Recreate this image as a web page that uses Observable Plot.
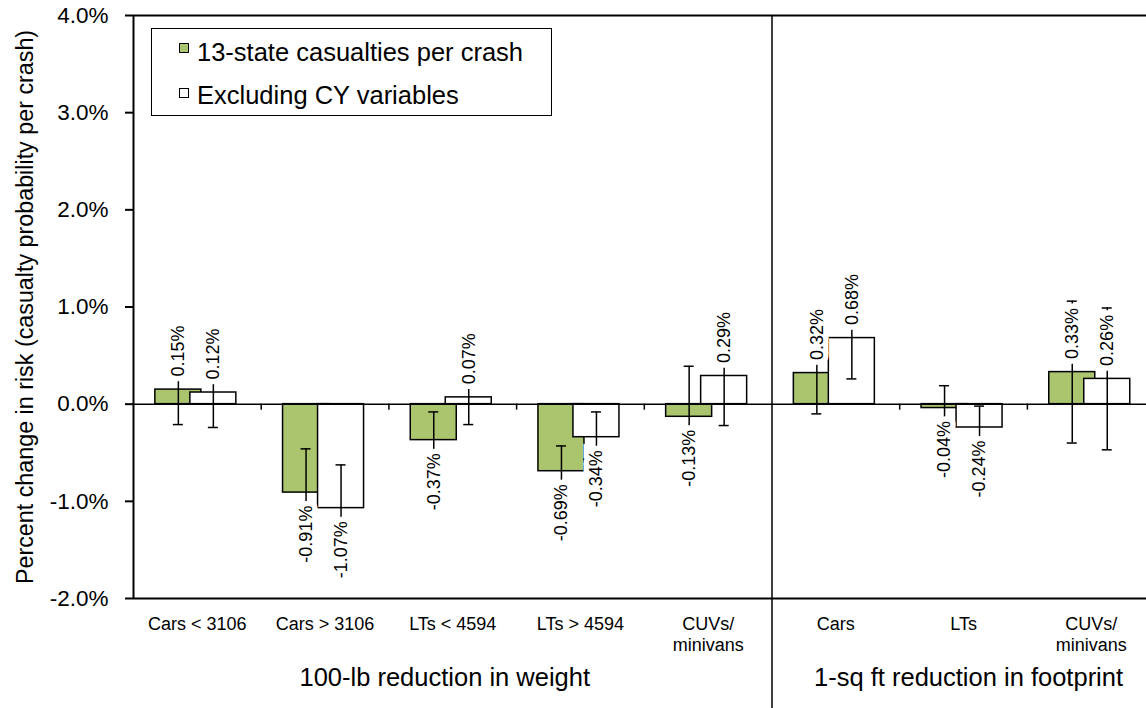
<!DOCTYPE html>
<html>
<head>
<meta charset="utf-8">
<script src="https://cdn.jsdelivr.net/npm/d3@7"></script>
<script src="https://cdn.jsdelivr.net/npm/@observablehq/plot@0.6"></script>
<style>
  html, body { margin: 0; padding: 0; background: #fff; }
  #wrap { position: relative; width: 1146px; height: 708px; overflow: hidden; font-family: "Liberation Sans", Arial, sans-serif; }
  #legend { position: absolute; left: 151px; top: 28px; width: 399px; height: 86px; border: 1.5px solid #000; background: #fff; }
  .sw { position: absolute; left: 27px; width: 8px; height: 8px; border: 1.2px solid #000; }
  .lt { position: absolute; left: 45px; font-size: 25.5px; line-height: 25px; color: #000; white-space: nowrap; }
</style>
</head>
<body>
<div id="wrap"></div>
<script>
// ---- data ----
const categories = ["Cars < 3106", "Cars > 3106", "LTs < 4594", "LTs > 4594", "CUVs/\nminivans", "Cars", "LTs", "CUVs/\nminivans"];
const groupNames = ["100-lb reduction in weight", "1-sq ft reduction in footprint"];
const seriesNames = ["13-state casualties per crash", "Excluding CY variables"];
const stateValues = [0.15, -0.91, -0.37, -0.69, -0.13, 0.32, -0.04, 0.33];
const exclValues  = [0.12, -1.07, 0.07, -0.34, 0.29, 0.68, -0.24, 0.26];
const stateErr = [0.36, 0.45, 0.29, 0.26, 0.52, 0.42, 0.23, 0.73];
const exclErr  = [0.36, 0.445, 0.28, 0.26, 0.51, 0.42, 0.22, 0.73];
const yTicks = [-2, -1, 0, 1, 2, 3, 4];
const yTitle = "Percent change in risk (casualty probability per crash)";

// ---- layout / style ----
const W = 1146, H = 708;
const green = "#AAC56E";
const font = "Liberation Sans, Arial, sans-serif";
const xRange = [133, 1154.6];
const bw = (xRange[1] - xRange[0]) / categories.length;
const half = 23;          // half bar width
const off1 = -19, off2 = 16;
const cap = 5;

const keys = categories.map((_, i) => i);
const rows1 = keys.map(i => ({key: i, v: stateValues[i], e: stateErr[i]}));
const rows2 = keys.map(i => ({key: i, v: exclValues[i], e: exclErr[i]}));
const catRows = keys.map(i => ({key: i, label: categories[i]}));
const fmt = v => v.toFixed(2) + "%";

function seriesMarks(rows, fill, off) {
  const inL = bw / 2 + off - half, inR = bw / 2 - off - half;
  return [
    Plot.barY(rows, {x: "key", y1: 0, y2: "v", fill, stroke: "#000", strokeWidth: 1.5, insetLeft: inL, insetRight: inR})
  ];
}
function errMarks(rows, off) {
  const cL = bw / 2 + off - cap, cR = bw / 2 - off - cap;
  return [
    Plot.ruleX(rows, {x: "key", y1: d => d.v - d.e, y2: d => d.v + d.e, dx: off, stroke: "#000", strokeWidth: 1.5}),
    Plot.tickY(rows, {x: "key", y: d => d.v - d.e, insetLeft: cL, insetRight: cR, stroke: "#000", strokeWidth: 1.5}),
    Plot.tickY(rows, {x: "key", y: d => d.v + d.e, insetLeft: cL, insetRight: cR, stroke: "#000", strokeWidth: 1.5})
  ];
}
function labelMarks(rows, off) {
  const common = {x: "key", y: "v", text: d => fmt(d.v), rotate: -90, dx: off, fontSize: 18, fontFamily: font,
    fill: "#000", stroke: "#fff", strokeWidth: 11, paintOrder: "stroke", strokeLinejoin: "miter"};
  return [
    Plot.text(rows.filter(d => d.v >= 0), {...common, textAnchor: "start", dy: -13}),
    Plot.text(rows.filter(d => d.v < 0), {...common, textAnchor: "end", dy: 13})
  ];
}

const chart = Plot.plot({
  width: W,
  height: H,
  marginTop: 15,
  marginBottom: 110,
  marginLeft: 133,
  marginRight: 0,
  style: {fontFamily: font, background: "#fff", color: "#000", overflow: "hidden"},
  x: {type: "band", domain: keys, range: xRange, padding: 0, round: false, axis: null},
  y: {domain: [-2, 4], label: null},
  marks: [
    ...seriesMarks(rows1, green, off1),
    ...seriesMarks(rows2, "#fff", off2),
    Plot.ruleY([0], {stroke: "#000", strokeWidth: 1.5}),
    ...errMarks(rows1, off1),
    ...errMarks(rows2, off2),
    ...labelMarks(rows1, off1),
    ...labelMarks(rows2, off2),
    // frame lines
    Plot.ruleY([yTicks[0], yTicks[yTicks.length - 1]], {stroke: "#000", strokeWidth: 2}),
    Plot.ruleX([keys[0]], {x: d => d, dx: -bw / 2, stroke: "#000", strokeWidth: 2}),
    // separator between groups
    Plot.ruleX([keys[5]], {x: d => d, dx: -bw / 2, stroke: "#000", strokeWidth: 1.5, insetBottom: -110}),
    // category boundary ticks on the zero line
    Plot.ruleX([0, 1, 2, 3, 5, 6], {x: d => d, dx: bw / 2, y1: 0, y2: 0, insetBottom: -6, stroke: "#000", strokeWidth: 1.5}),
    // y axis
    Plot.axisY({ticks: yTicks, tickFormat: d => d.toFixed(1) + "%", tickSize: 8, tickPadding: 17, fontSize: 22.5, label: null, strokeWidth: 2}),
    Plot.text([yTitle], {frameAnchor: "left", textAnchor: "middle", dx: -108, rotate: -90, fontSize: 23.3, fontFamily: font, fill: "#000"}),
    // category labels
    Plot.text(catRows, {x: "key", text: "label", frameAnchor: "bottom", lineAnchor: "top", dy: 16, fontSize: 18, lineHeight: 1.2, fontFamily: font, fill: "#000"}),
    // group labels
    Plot.text([groupNames[0]], {x: () => keys[2], frameAnchor: "bottom", lineAnchor: "top", dy: 69, dx: -8, fontSize: 25.5, fontFamily: font, fill: "#000"}),
    Plot.text([groupNames[1]], {x: () => keys[6], frameAnchor: "bottom", lineAnchor: "top", dy: 69, dx: 5, fontSize: 25.5, fontFamily: font, fill: "#000"})
  ]
});

const wrap = document.getElementById("wrap");
wrap.appendChild(chart);

// legend
const legend = document.createElement("div");
legend.id = "legend";
const fills = [green, "#fff"];
const swTops = [14, 59];
const txTops = [11, 54];
seriesNames.forEach((name, i) => {
  const sw = document.createElement("div");
  sw.className = "sw";
  sw.style.top = swTops[i] + "px";
  sw.style.background = fills[i];
  legend.appendChild(sw);
  const t = document.createElement("div");
  t.className = "lt";
  t.style.top = txTops[i] + "px";
  t.textContent = name;
  legend.appendChild(t);
});
wrap.appendChild(legend);
</script>
</body>
</html>
